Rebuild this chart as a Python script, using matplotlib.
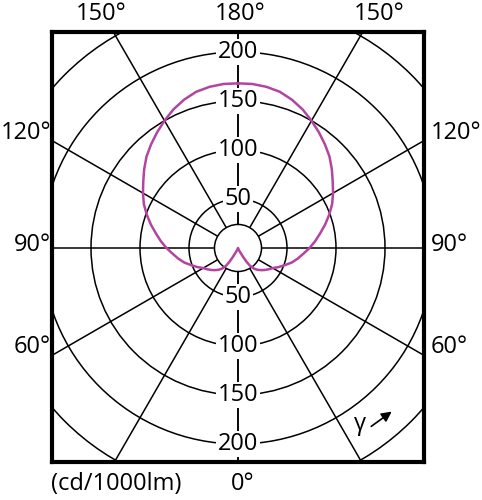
import numpy as np
import matplotlib
matplotlib.use("Agg")
import matplotlib.pyplot as plt
from matplotlib.patches import Circle

# ---- data ----
gamma_deg = [0, 10, 20, 26, 30, 32, 34, 38, 42, 46, 50, 55, 60, 65, 70, 75, 80, 85, 90,
             95, 100, 105, 110, 115, 120, 125, 130, 135, 140, 145, 150, 155, 160,
             165, 170, 175, 180]
intensity = [0, 0.5, 1.5, 4, 11, 17, 22, 27, 30, 32.5, 35, 38, 41, 46, 51, 57, 62, 67, 73,
             79, 85, 92, 99, 106, 112, 118, 125, 132, 138, 144, 150, 156, 161,
             165, 167, 168, 168]
ring_values = [50, 100, 150, 200, 250]
ring_labels = ["50", "100", "150", "200"]
spoke_angles = [0, 30, 60, 90, 120, 150, 180]
top_labels = ["150°", "180°", "150°"]
side_labels = ["120°", "90°", "60°"]
unit_label = "(cd/1000lm)"
bottom_label = "0°"
inner_radius = 24

plt.rcParams['font.family'] = ['Open Sans', 'DejaVu Sans']
FS = 17

fig = plt.figure(figsize=(4.82, 5.0), dpi=100)
ax = fig.add_axes([52 / 482, 38 / 500, 372 / 482, 430 / 500])
ax.set_xlim(-189.8, 189.8)
ax.set_ylim(-218.4, 220.4)
ax.set_xticks([])
ax.set_yticks([])
for s in ax.spines.values():
    s.set_linewidth(3)
    s.set_color('black')

lw = 1.1
# rings
for r in ring_values:
    ax.add_patch(Circle((0, 0), r, fill=False, ec='black', lw=lw, zorder=2))
ax.add_patch(Circle((0, 0), inner_radius, fill=False, ec='black', lw=lw, zorder=2))

# spokes (both sides)
R = 400
for a in spoke_angles:
    t = np.radians(a)
    for sgn in (-1, 1):
        ax.plot([sgn * inner_radius * np.sin(t), sgn * R * np.sin(t)],
                [-inner_radius * np.cos(t), -R * np.cos(t)],
                color='black', lw=lw, zorder=2, solid_capstyle='butt')

# ring labels on vertical axis
for v, lab in zip(ring_values, ring_labels):
    for sgn in (1, -1):
        ax.text(0, sgn * v, lab, ha='center', va='center', fontsize=FS,
                zorder=3,
                bbox=dict(boxstyle='square,pad=0.06', fc='white', ec='none'))

# curve (symmetric C0-C180 plane)
g = np.radians(np.array(gamma_deg, dtype=float))
I = np.array(intensity, dtype=float)
xr = I * np.sin(g)
yr = -I * np.cos(g)
x = np.concatenate([-xr[::-1], xr[1:]])
y = np.concatenate([yr[::-1], yr[1:]])
ax.plot(x, y, color='#b4449f', lw=1.8, zorder=4, solid_joinstyle='round')

# outer labels
k = 0.98
def px2data(px, py):
    return (px - 238) / k, (248 - py) / k

for px, lab in zip([101, 240, 379], top_labels):
    dx, dy = px2data(px, 14)
    ax.text(dx, dy, lab, ha='center', va='center', fontsize=FS, clip_on=False)
for py, lab in zip([133, 245, 347], side_labels):
    dx, dy = px2data(51, py)
    ax.text(dx, dy, lab, ha='right', va='center', fontsize=FS, clip_on=False)
    dx, dy = px2data(431, py)
    ax.text(dx, dy, lab, ha='left', va='center', fontsize=FS, clip_on=False)

dx, dy = px2data(51, 484)
ax.text(dx, dy, unit_label, ha='left', va='center', fontsize=FS, clip_on=False)
dx, dy = px2data(243, 484)
ax.text(dx, dy, bottom_label, ha='center', va='center', fontsize=FS, clip_on=False)

# gamma arrow
dx, dy = px2data(360, 424)
ax.text(dx, dy, "γ", ha='center', va='center', fontsize=FS, zorder=3)
x0, y0 = px2data(369, 428)
x1, y1 = px2data(394, 410)
ax.annotate("", xy=(x1, y1), xytext=(x0, y0),
            arrowprops=dict(arrowstyle='-|>,head_length=0.6,head_width=0.3',
                            color='black', lw=1.2), zorder=3)

fig.savefig("out.png", dpi=100, facecolor='white')
